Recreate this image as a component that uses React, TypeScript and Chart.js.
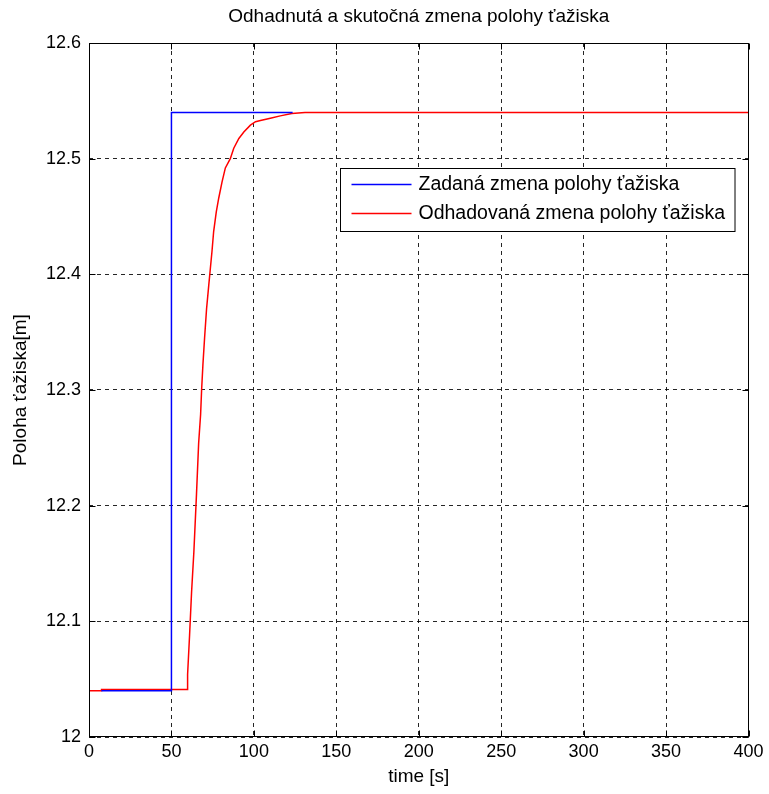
import React, { useEffect, useRef } from "react";
import { Chart, registerables } from "chart.js";

Chart.register(...registerables);

const TITLE = "Odhadnutá a skutočná zmena polohy ťažiska";
const X_LABEL = "time [s]";
const Y_LABEL = "Poloha ťažiska[m]";
const SERIES_NAMES = ["Zadaná zmena polohy ťažiska", "Odhadovaná zmena polohy ťažiska"];
const SERIES_COLORS = ["#0000ff", "#ff0000"];

const X_TICKS = [0, 50, 100, 150, 200, 250, 300, 350, 400];
const Y_TICKS = [12, 12.1, 12.2, 12.3, 12.4, 12.5, 12.6];

const blueTime = [7.5, 50, 50, 123.5];
const blueValue = [12.04, 12.04, 12.54, 12.54];

const redTime = [
  0, 7.5, 7.6, 59.6, 59.8, 61.0, 62.2, 63.6, 65.2, 66.5, 67.7, 68.3, 69.1, 70.1, 71.3,
  72.6, 73.6, 74.6, 75.6, 77.2, 78.7, 80.7, 82.7, 85.7, 87.8, 90.9, 93.9, 97.9, 101,
  104, 110, 116, 123, 131, 400,
];
const redValue = [
  12.04, 12.04, 12.041, 12.041, 12.054, 12.088, 12.125, 12.16, 12.21, 12.254, 12.279,
  12.3, 12.322, 12.345, 12.37, 12.39, 12.405, 12.42, 12.437, 12.454, 12.466, 12.48,
  12.492, 12.5, 12.509, 12.5175, 12.523, 12.529, 12.532, 12.533, 12.535, 12.537,
  12.539, 12.54, 12.54,
];

const FONT = "'Liberation Sans', Arial, sans-serif";

const toPoints = (xs: number[], ys: number[]) => xs.map((x, i) => ({ x, y: ys[i] }));

const framePlugin = {
  id: "matlabFrame",
  afterDraw(chart: any) {
    const { ctx, chartArea } = chart;
    const { left, right, top, bottom } = chartArea;
    const xs = chart.scales.x;
    const ys = chart.scales.y;
    ctx.save();
    ctx.strokeStyle = "#000";
    ctx.lineWidth = 1;
    const L = Math.round(left) + 0.5;
    const R = Math.round(right) - 0.5;
    const T = Math.round(top) + 0.5;
    const B = Math.round(bottom) - 0.5;
    ctx.strokeRect(L, T, R - L, B - T);
    const tl = 6;
    ctx.beginPath();
    X_TICKS.forEach((v) => {
      const px = Math.round(xs.getPixelForValue(v)) + 0.5;
      ctx.moveTo(px, B);
      ctx.lineTo(px, B - tl);
      ctx.moveTo(px, T);
      ctx.lineTo(px, T + tl);
    });
    Y_TICKS.forEach((v) => {
      const py = Math.round(ys.getPixelForValue(v)) + 0.5;
      ctx.moveTo(L, py);
      ctx.lineTo(L + tl, py);
      ctx.moveTo(R, py);
      ctx.lineTo(R - tl, py);
    });
    ctx.stroke();

    // title
    ctx.fillStyle = "#000";
    ctx.font = `19px ${FONT}`;
    ctx.textAlign = "center";
    ctx.textBaseline = "middle";
    ctx.fillText(TITLE, (left + right) / 2, 17);

    // legend
    ctx.font = `19.5px ${FONT}`;
    const textW = Math.max(...SERIES_NAMES.map((s) => ctx.measureText(s).width));
    const w = 11 + 60 + 7 + textW + 10;
    const h = 63;
    const x0 = Math.round(right - 14 - w) + 0.5;
    const y0 = Math.round(top + 125) + 0.5;
    ctx.fillStyle = "#fff";
    ctx.fillRect(x0, y0, w, h);
    ctx.strokeStyle = "#000";
    ctx.lineWidth = 1;
    ctx.strokeRect(x0, y0, w, h);
    ctx.textAlign = "left";
    ctx.textBaseline = "middle";
    SERIES_NAMES.forEach((name, i) => {
      const cy = y0 + 16 + i * 29;
      ctx.strokeStyle = SERIES_COLORS[i];
      ctx.lineWidth = 1.5;
      ctx.beginPath();
      ctx.moveTo(x0 + 11, cy);
      ctx.lineTo(x0 + 71, cy);
      ctx.stroke();
      ctx.fillStyle = "#000";
      ctx.fillText(name, x0 + 78, cy);
    });
    ctx.restore();
  },
};

export default function App() {
  const canvasRef = useRef<HTMLCanvasElement | null>(null);

  useEffect(() => {
    if (!canvasRef.current) return;
    const chart = new Chart(canvasRef.current, {
      type: "line",
      data: {
        datasets: [
          {
            label: SERIES_NAMES[0],
            data: toPoints(blueTime, blueValue),
            borderColor: SERIES_COLORS[0],
            backgroundColor: SERIES_COLORS[0],
            borderWidth: 1.5,
            pointRadius: 0,
            tension: 0,
            fill: false,
          },
          {
            label: SERIES_NAMES[1],
            data: toPoints(redTime, redValue),
            borderColor: SERIES_COLORS[1],
            backgroundColor: SERIES_COLORS[1],
            borderWidth: 1.5,
            pointRadius: 0,
            tension: 0,
            fill: false,
          },
        ],
      },
      options: {
        animation: false,
        responsive: true,
        maintainAspectRatio: false,
        layout: { padding: { top: 43, right: 20.5, left: 0, bottom: 0 } },
        plugins: {
          legend: { display: false },
          title: { display: false },
          tooltip: { enabled: false },
        },
        scales: {
          x: {
            type: "linear",
            min: 0,
            max: 400,
            afterBuildTicks: (s: any) => {
              s.ticks = X_TICKS.map((v) => ({ value: v }));
            },
            afterFit: (s: any) => {
              s.height = 57;
            },
            ticks: {
              color: "#000",
              font: { family: FONT, size: 18 },
              padding: 4,
              maxRotation: 0,
              autoSkip: false,
            },
            grid: { color: "rgba(0,0,0,0.85)", lineWidth: 1, drawTicks: false },
            border: { display: false, dash: [4, 4] },
            title: {
              display: true,
              text: X_LABEL,
              color: "#000",
              font: { family: FONT, size: 19 },
              padding: { top: 0, bottom: 6 },
            },
          },
          y: {
            type: "linear",
            min: 12,
            max: 12.6,
            afterBuildTicks: (s: any) => {
              s.ticks = Y_TICKS.map((v) => ({ value: v }));
            },
            afterFit: (s: any) => {
              s.width = 89;
            },
            ticks: {
              color: "#000",
              font: { family: FONT, size: 18 },
              padding: 8,
              autoSkip: false,
              callback: (v: any) => Number(v).toFixed(1).replace(/\.0$/, ""),
            },
            grid: { color: "rgba(0,0,0,0.85)", lineWidth: 1, drawTicks: false },
            border: { display: false, dash: [4, 4] },
            title: {
              display: true,
              text: Y_LABEL,
              color: "#000",
              font: { family: FONT, size: 19 },
              padding: { top: 9, bottom: 0 },
            },
          },
        },
      },
      plugins: [framePlugin],
    });
    return () => chart.destroy();
  }, []);

  return (
    <div style={{ position: "fixed", left: 0, top: 0, width: 769, height: 794, background: "#fff" }}>
      <canvas ref={canvasRef} />
    </div>
  );
}
